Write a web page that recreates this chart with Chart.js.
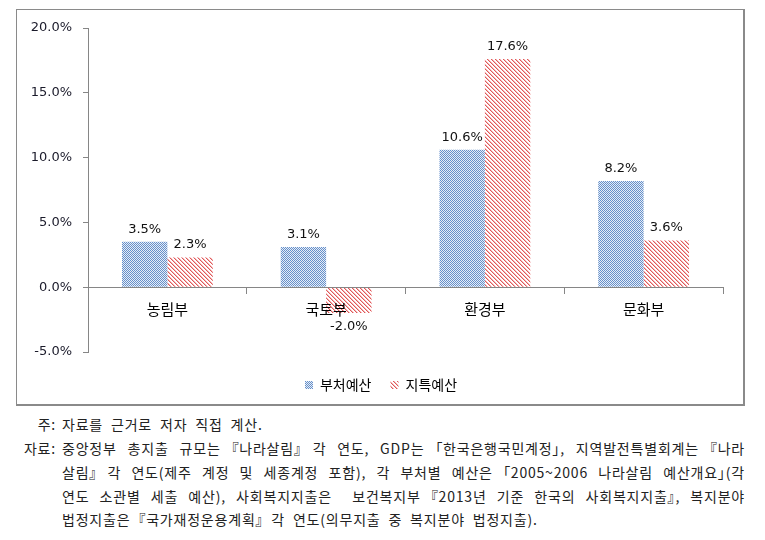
<!DOCTYPE html>
<html>
<head>
<meta charset="utf-8">
<script src="https://cdn.jsdelivr.net/npm/chart.js@4.4.1/dist/chart.umd.min.js"></script>
<style>
body { margin: 0; background: #fff; width: 765px; height: 540px; position: relative; overflow: hidden; font-family: "Noto Sans CJK KR", sans-serif; }
#frame { position: absolute; left: 16px; top: 9px; width: 726px; height: 394px; border: 1px solid #8a8a8a; border-right-width: 2px; border-bottom-width: 2px; }
#chartCanvas { position: absolute; left: 0; top: 0; }
.note { position: absolute; font-size: 14px; line-height: 24px; color: #222; white-space: nowrap; word-spacing: 4px; letter-spacing: 0.8px; font-feature-settings: "palt"; }
.lab { left: 0; width: 56px; text-align: right; }
.txt { left: 62px; }
</style>
</head>
<body>
<div id="frame"></div>
<canvas id="chartCanvas" width="765" height="402"></canvas>

<div class="note lab" style="top:412px">주:</div>
<div class="note txt" style="top:412px">자료를 근거로 저자 직접 계산.</div>
<div class="note lab" style="top:436px">자료:</div>
<div class="note txt just" style="top:436px">중앙정부 총지출 규모는 『나라살림』 각 연도, GDP는 「한국은행국민계정」, 지역발전특별회계는 『나라</div>
<div class="note txt just" style="top:460px">살림』 각 연도(제주 계정 및 세종계정 포함), 각 부처별 예산은 「2005~2006 나라살림 예산개요」(각</div>
<div class="note txt just" style="top:484px">연도 소관별 세출 예산), 사회복지지출은 &nbsp;보건복지부 『2013년 기준 한국의 사회복지지출』, 복지분야</div>
<div class="note txt" style="top:507px">법정지출은 『국가재정운용계획』 각 연도(의무지출 중 복지분야 법정지출).</div>

<script>
const categories = ['농림부', '국토부', '환경부', '문화부'];
const ministryBudget = [3.5, 3.1, 10.6, 8.2];   // 부처예산
const specialBudget = [2.3, -2.0, 17.6, 3.6];   // 지특예산
const seriesNames = ['부처예산', '지특예산'];
const yTicks = [-5, 0, 5, 10, 15, 20];

// stretch the source lines to the full width at the spaces only
const lineWidth = 683;
for (let el of document.querySelectorAll('.just')) {
    const gaps = (el.textContent.match(/[ \u00a0]/g) || []).length;
    const w = el.getBoundingClientRect().width;
    if (gaps > 0) {
        el.style.wordSpacing = (4 + (lineWidth - w) / gaps) + 'px';
    }
}

// small checker of blue dots
function dotPattern() {
    const c = document.createElement('canvas');
    c.width = 2; c.height = 2;
    const g = c.getContext('2d');
    g.fillStyle = '#e6edf7';
    g.fillRect(0, 0, 2, 2);
    g.fillStyle = '#6690ca';
    g.fillRect(0, 0, 1, 1);
    g.fillRect(1, 1, 1, 1);
    return g.createPattern(c, 'repeat');
}

// red diagonal hatch, going down to the right
function hatchPattern() {
    const c = document.createElement('canvas');
    c.width = 4; c.height = 4;
    const g = c.getContext('2d');
    g.fillStyle = '#ffffff';
    g.fillRect(0, 0, 4, 4);
    for (let i = 0; i < 4; i++) {
        g.fillStyle = '#e0585a';
        g.fillRect(i, i, 1, 1);
        g.fillStyle = '#f3b9b9';
        g.fillRect((i + 1) % 4, i, 1, 1);
    }
    return g.createPattern(c, 'repeat');
}

const valueLabels = {
    id: 'valueLabels',
    afterDatasetsDraw(chart) {
        const ctx = chart.ctx;
        ctx.save();
        ctx.font = '13px "DejaVu Sans"';
        ctx.fillStyle = '#111';
        ctx.textAlign = 'center';
        chart.data.datasets.forEach((ds, i) => {
            chart.getDatasetMeta(i).data.forEach((bar, j) => {
                const v = ds.data[j];
                const txt = v.toFixed(1) + '%';
                if (v >= 0) {
                    ctx.textBaseline = 'bottom';
                    ctx.fillText(txt, bar.x, bar.y - 6);
                } else {
                    ctx.textBaseline = 'top';
                    ctx.fillText(txt, bar.x, bar.y + 7);
                }
            });
        });
        ctx.restore();
    }
};

const axisGray = '#868686';

const data = {
    labels: categories,
    datasets: [
        {
            label: seriesNames[0],
            data: ministryBudget,
            backgroundColor: dotPattern(),
            borderWidth: 0
        },
        {
            label: seriesNames[1],
            data: specialBudget,
            backgroundColor: hatchPattern(),
            borderWidth: 0
        }
    ]
};

const config = {
    type: 'bar',
    data: data,
    options: {
        responsive: false,
        animation: false,
        devicePixelRatio: 1,
        categoryPercentage: 0.572,
        barPercentage: 1.0,
        layout: { padding: { left: 16, right: 19, top: 28, bottom: 0 } },
        scales: {
            x: {
                position: { y: 0 },
                offset: true,
                grid: { offset: true, drawOnChartArea: false, tickLength: 6, color: axisGray, z: 1 },
                border: { color: axisGray, z: 1 },
                ticks: { color: '#000', padding: 7, z: 1, font: { family: 'Noto Sans CJK KR', size: 15 } }
            },
            y: {
                min: -5,
                max: 20,
                afterBuildTicks: s => { s.ticks = yTicks.map(v => ({ value: v })); },
                afterFit: s => { s.width = 72; },
                grid: { drawOnChartArea: false, tickLength: 5, color: axisGray },
                border: { color: axisGray },
                ticks: {
                    color: '#1a1a2a',
                    padding: 11,
                    font: { family: 'DejaVu Sans', size: 13 },
                    callback: v => v.toFixed(1) + '%'
                }
            },
            // empty right margin so the legend sits where it does in the original
            y2: {
                position: 'right',
                afterFit: s => { s.width = 23; },
                grid: { display: false },
                border: { display: false },
                ticks: { display: false }
            }
        },
        plugins: {
            tooltip: { enabled: false },
            legend: {
                position: 'bottom',
                title: { display: true, text: ' ', padding: 0, font: { size: 7, lineHeight: 1 } },
                labels: {
                    boxWidth: 8,
                    boxHeight: 8,
                    padding: 19,
                    color: '#000',
                    font: { family: 'Noto Sans CJK KR', size: 14 }
                }
            }
        }
    },
    plugins: [valueLabels]
};

let myChart = new Chart(document.getElementById('chartCanvas'), config);
</script>
</body>
</html>
